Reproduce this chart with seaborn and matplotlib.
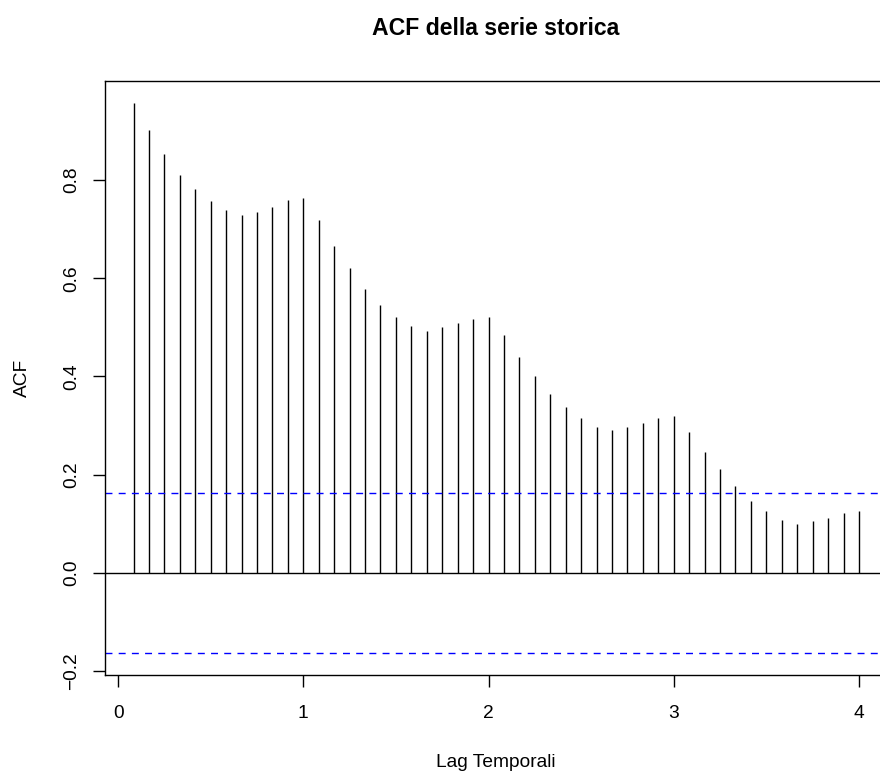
import numpy as np
import matplotlib
matplotlib.use("Agg")
import matplotlib.pyplot as plt
import seaborn as sns

# Sample autocorrelations for lags 1..48 (monthly series, lag in years)
lag_months = list(range(1, 49))
acf_values = [
    0.956, 0.901, 0.853, 0.810, 0.781, 0.758, 0.739, 0.728, 0.735, 0.746,
    0.760, 0.764, 0.718, 0.665, 0.620, 0.578, 0.545, 0.521, 0.502, 0.492,
    0.500, 0.508, 0.518, 0.522, 0.485, 0.439, 0.401, 0.365, 0.338, 0.316,
    0.298, 0.290, 0.297, 0.305, 0.316, 0.320, 0.287, 0.246, 0.212, 0.176,
    0.146, 0.126, 0.107, 0.099, 0.105, 0.112, 0.121, 0.126,
]
n_obs = 144
freq = 12
x_ticks = [0, 1, 2, 3, 4]
y_ticks = [-0.2, 0.0, 0.2, 0.4, 0.6, 0.8]

lags = np.array(lag_months) / freq
acf = np.array(acf_values)
conf = 1.96 / np.sqrt(n_obs)

sns.set_theme(style="white")
plt.rcParams["font.family"] = ["Liberation Sans", "DejaVu Sans"]
plt.rcParams["text.color"] = "black"
plt.rcParams["axes.labelcolor"] = "black"

fig = plt.figure(figsize=(8.8, 7.73), dpi=100)
ax = fig.add_axes([0.11875, 0.12678, 0.8903, 0.7678])

# R-style 4% axis padding
def padded(lo, hi, f=0.04):
    d = (hi - lo) * f
    return lo - d, hi + d

ax.set_xlim(*padded(lags.min(), lags.max()))
ax.set_ylim(*padded(min(acf.min(), -conf), max(acf.max(), conf)))

ax.vlines(lags, 0, acf, color="black", lw=1.0)
ax.axhline(0, color="black", lw=1.0)
for c in (conf, -conf):
    ax.axhline(c, color="blue", lw=1.0, linestyle=(0, (5, 4.5)))

for s in ax.spines.values():
    s.set_color("black")
    s.set_linewidth(1.0)

ax.set_xticks(x_ticks)
ax.set_xticklabels([str(t) for t in x_ticks])
ax.set_yticks(y_ticks)
ax.set_yticklabels([f"{t:.1f}".replace("-", "\u2212") for t in y_ticks],
                   rotation=90, va="center")
ax.tick_params(axis="both", direction="out", length=8.8, width=1.0,
               color="black", labelsize=13.8, labelcolor="black",
               bottom=True, left=True)
ax.tick_params(axis="x", pad=13.0)
ax.tick_params(axis="y", pad=8.5)
ax.grid(False)

fig.text(496 / 880, (773 - 35) / 773, "ACF della serie storica",
         ha="center", va="baseline", fontsize=16.6, fontweight="bold",
         color="black")
fig.text(496 / 880, (773 - 767) / 773, "Lag Temporali",
         ha="center", va="baseline", fontsize=13.8, color="black")
fig.text(22 / 880, (773 - 378.25) / 773, "ACF", rotation=90,
         ha="center", va="center", fontsize=13.8, color="black")

fig.savefig("out.png", dpi=100, facecolor="white")
